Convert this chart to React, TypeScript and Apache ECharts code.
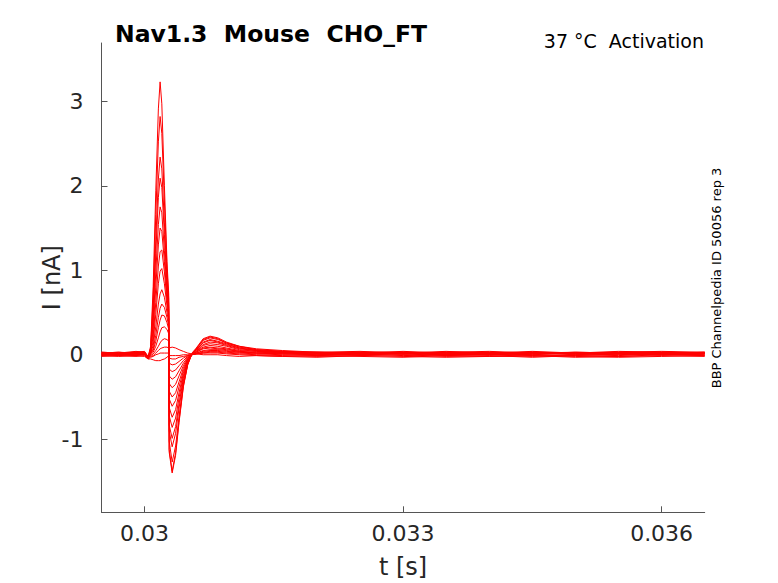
import React, { useEffect, useRef } from "react";
import * as echarts from "echarts";

// time points (s)
const timeS = [
  0.0295, 0.0297, 0.0299, 0.03, 0.03004, 0.03007, 0.0301, 0.03013, 0.03016, 0.03018,
  0.0302, 0.03023, 0.03026, 0.03028, 0.030285, 0.03032, 0.03036, 0.0304, 0.03045, 0.0305,
  0.03055, 0.0306, 0.03068, 0.03076, 0.03085, 0.03095, 0.0311, 0.0313, 0.0316, 0.032,
  0.0325, 0.033, 0.0335, 0.034, 0.0345, 0.035, 0.0355, 0.036, 0.0365,
];

// current traces (nA), one per voltage step
const traceA = [0.01, 0.02, 0.03, 0.03, -0.03, 0.1, 0.81, 1.94, 2.91, 3.23, 2.97, 2.0, 1.1, 0.72, -1.15, -1.4, -1.19, -0.8, -0.38, -0.12, 0.02, 0.08, 0.19, 0.22, 0.2, 0.15, 0.1, 0.07, 0.05, 0.03, 0.04, 0.02, 0.03, 0.01, 0.03, 0.02, 0.04, 0.03, 0.02];
const traceB = [0.0, 0.01, 0.02, 0.02, -0.04, 0.08, 0.68, 1.66, 2.52, 2.82, 2.62, 1.82, 1.02, 0.66, -1.12, -1.38, -1.16, -0.78, -0.37, -0.12, 0.01, 0.07, 0.18, 0.21, 0.19, 0.14, 0.1, 0.06, 0.04, 0.02, 0.03, 0.03, 0.01, 0.02, 0.04, 0.02, 0.03, 0.04, 0.03];
const traceC = [0.02, 0.01, 0.03, 0.04, -0.02, 0.07, 0.55, 1.36, 2.08, 2.34, 2.2, 1.56, 0.9, 0.6, -1.02, -1.27, -1.08, -0.73, -0.35, -0.11, 0.01, 0.07, 0.17, 0.2, 0.18, 0.14, 0.09, 0.06, 0.04, 0.03, 0.02, 0.04, 0.02, 0.03, 0.01, 0.03, 0.02, 0.03, 0.02];
const traceD = [0.01, 0.0, 0.02, 0.02, -0.05, 0.05, 0.47, 1.2, 1.86, 2.09, 1.98, 1.42, 0.84, 0.56, -0.9, -1.09, -0.93, -0.63, -0.31, -0.1, 0.01, 0.06, 0.15, 0.18, 0.16, 0.13, 0.08, 0.05, 0.03, 0.02, 0.01, 0.02, 0.04, 0.02, 0.02, 0.01, 0.03, 0.02, 0.03];
const traceE = [0.03, 0.02, 0.04, 0.03, -0.03, 0.04, 0.38, 0.98, 1.54, 1.75, 1.68, 1.23, 0.76, 0.52, -0.83, -0.99, -0.85, -0.58, -0.28, -0.09, 0.01, 0.06, 0.14, 0.17, 0.15, 0.12, 0.08, 0.05, 0.03, 0.03, 0.02, 0.01, 0.03, 0.04, 0.02, 0.02, 0.01, 0.03, 0.02];
const traceF = [0.0, 0.01, 0.01, 0.02, -0.04, 0.03, 0.3, 0.8, 1.3, 1.5, 1.46, 1.1, 0.7, 0.48, -0.72, -0.86, -0.75, -0.51, -0.25, -0.08, 0.01, 0.05, 0.12, 0.15, 0.14, 0.11, 0.07, 0.05, 0.03, 0.02, 0.03, 0.02, 0.0, 0.02, 0.03, 0.01, 0.02, 0.01, 0.02];
const traceG = [0.02, 0.03, 0.02, 0.03, -0.02, 0.03, 0.22, 0.62, 1.05, 1.22, 1.24, 0.98, 0.64, 0.45, -0.62, -0.74, -0.65, -0.45, -0.22, -0.07, 0.0, 0.04, 0.11, 0.13, 0.12, 0.1, 0.06, 0.04, 0.03, 0.02, 0.01, 0.03, 0.02, 0.0, 0.02, 0.03, 0.02, 0.02, 0.01];
const traceH = [0.01, 0.0, 0.02, 0.01, -0.04, 0.02, 0.16, 0.48, 0.84, 0.99, 1.02, 0.84, 0.58, 0.42, -0.52, -0.61, -0.54, -0.38, -0.19, -0.06, 0.0, 0.04, 0.09, 0.11, 0.1, 0.08, 0.05, 0.04, 0.02, 0.01, 0.02, 0.01, 0.03, 0.02, 0.0, 0.02, 0.01, 0.02, 0.02];
const traceI = [0.03, 0.02, 0.03, 0.02, -0.03, 0.02, 0.11, 0.33, 0.6, 0.72, 0.77, 0.68, 0.5, 0.38, -0.43, -0.5, -0.45, -0.32, -0.16, -0.05, 0.0, 0.03, 0.08, 0.09, 0.08, 0.07, 0.04, 0.03, 0.02, 0.03, 0.01, 0.02, 0.01, 0.03, 0.02, 0.0, 0.02, 0.01, 0.03];
const traceJ = [0.0, 0.01, 0.0, 0.01, -0.05, 0.01, 0.07, 0.23, 0.44, 0.55, 0.6, 0.56, 0.44, 0.34, -0.34, -0.39, -0.35, -0.25, -0.13, -0.04, 0.0, 0.03, 0.07, 0.08, 0.07, 0.06, 0.04, 0.02, 0.01, 0.0, 0.02, 0.01, 0.0, 0.01, 0.03, 0.01, 0.0, 0.02, 0.01];
const traceK = [0.02, 0.03, 0.01, 0.03, -0.02, 0.02, 0.05, 0.16, 0.32, 0.41, 0.47, 0.46, 0.38, 0.3, -0.25, -0.29, -0.26, -0.19, -0.1, -0.03, 0.0, 0.02, 0.05, 0.06, 0.06, 0.05, 0.03, 0.02, 0.02, 0.01, 0.0, 0.02, 0.01, 0.0, 0.01, 0.02, 0.01, 0.0, 0.01];
const traceL = [0.01, 0.0, 0.01, 0.0, -0.04, 0.0, 0.03, 0.1, 0.2, 0.27, 0.32, 0.33, 0.3, 0.25, -0.17, -0.2, -0.18, -0.13, -0.07, -0.02, 0.0, 0.02, 0.04, 0.05, 0.05, 0.04, 0.03, 0.02, 0.01, 0.0, 0.01, -0.01, 0.0, 0.01, 0.0, -0.01, 0.01, 0.0, 0.01];
const traceM = [0.0, -0.01, 0.0, 0.01, -0.03, -0.01, 0.01, 0.05, 0.1, 0.14, 0.17, 0.19, 0.18, 0.16, -0.1, -0.12, -0.11, -0.08, -0.04, -0.01, 0.0, 0.01, 0.03, 0.04, 0.04, 0.03, 0.02, 0.01, 0.0, -0.01, 0.0, 0.01, -0.01, 0.0, -0.02, 0.0, -0.01, 0.01, 0.0];
const traceN = [-0.01, 0.0, -0.01, 0.0, -0.04, -0.02, -0.01, 0.02, 0.05, 0.07, 0.08, 0.09, 0.09, 0.08, -0.04, -0.05, -0.05, -0.03, -0.02, -0.01, 0.0, 0.01, 0.02, 0.03, 0.03, 0.02, 0.01, 0.0, -0.01, -0.02, -0.01, 0.0, -0.02, -0.01, -0.03, -0.01, -0.02, 0.0, -0.01];
const traceO = [-0.02, -0.01, -0.02, -0.01, -0.05, -0.03, -0.02, 0.0, 0.01, 0.02, 0.02, 0.02, 0.02, 0.02, -0.01, -0.01, -0.01, -0.01, 0.0, 0.0, 0.0, 0.01, 0.02, 0.02, 0.02, 0.01, 0.0, -0.01, -0.02, -0.01, -0.02, -0.03, -0.01, -0.02, -0.01, -0.03, -0.02, -0.01, -0.02];
const traceP = [-0.01, -0.02, -0.01, -0.02, -0.05, -0.05, -0.06, -0.07, -0.07, -0.07, -0.06, -0.05, -0.03, -0.01, 0.08, 0.09, 0.08, 0.06, 0.04, 0.02, 0.01, 0.01, 0.0, 0.0, 0.0, -0.01, -0.02, -0.01, -0.02, -0.03, -0.01, -0.02, -0.03, -0.02, -0.01, -0.02, -0.03, -0.02, -0.01];

const traces = [traceA, traceB, traceC, traceD, traceE, traceF, traceG, traceH, traceI, traceJ, traceK, traceL, traceM, traceN, traceO, traceP];

const xTicks = [0.03, 0.033, 0.036];
const yTicks = [-1, 0, 1, 2, 3];

const titleText = "Nav1.3  Mouse  CHO_FT";
const conditionText = "37 °C  Activation";
const sourceText = "BBP Channelpedia ID 50056 rep 3";

const FONT = '"DejaVu Sans", "Liberation Sans", sans-serif';
const AXIS_COLOR = "#555555";
const TEXT_COLOR = "#262626";

export default function App() {
  const ref = useRef<HTMLDivElement>(null);
  useEffect(() => {
    if (!ref.current) return;
    const chart = echarts.init(ref.current, undefined, { renderer: "svg" });
    const series = traces.map((vals, k) => ({
      type: "line",
      name: "trace" + k,
      data: timeS.map((t, i) => [t, vals[i]]),
      showSymbol: false,
      symbol: "none",
      lineStyle: { color: "#ff0000", width: 1 },
      silent: true,
      z: 2,
    }));
    chart.setOption({
      animation: false,
      backgroundColor: "#ffffff",
      grid: {
        left: 101.5,
        top: 43,
        right: 73.3,
        bottom: 70.7,
        containLabel: false,
        outerBoundsMode: "none",
      },
      xAxis: {
        type: "value",
        min: 0.0295,
        max: 0.0365,
        name: "t [s]",
        nameLocation: "middle",
        nameGap: 43,
        nameTextStyle: { fontSize: 24, color: TEXT_COLOR, fontFamily: FONT },
        axisLine: { show: true, onZero: false, lineStyle: { color: AXIS_COLOR, width: 1 } },
        axisTick: { show: true, inside: true, length: 6, customValues: xTicks, lineStyle: { color: AXIS_COLOR } },
        axisLabel: {
          customValues: xTicks,
          margin: 10,
          fontSize: 22,
          color: TEXT_COLOR,
          fontFamily: FONT,
          formatter: (v: number) => String(Number(v.toFixed(4))),
        },
        splitLine: { show: false },
      },
      yAxis: {
        type: "value",
        min: -1.865,
        max: 3.69,
        name: "I [nA]",
        nameLocation: "middle",
        nameGap: 38,
        nameMoveOverlap: false,
        nameTextStyle: { fontSize: 24, color: TEXT_COLOR, fontFamily: FONT },
        axisLine: { show: true, onZero: false, lineStyle: { color: AXIS_COLOR, width: 1 } },
        axisTick: { show: true, inside: true, length: 6, customValues: yTicks, lineStyle: { color: AXIS_COLOR } },
        axisLabel: {
          customValues: yTicks,
          margin: 18,
          fontSize: 22,
          color: TEXT_COLOR,
          fontFamily: FONT,
          formatter: (v: number) => String(Math.round(v)),
        },
        splitLine: { show: false },
      },
      graphic: [
        {
          type: "text",
          x: 115,
          y: 34,
          style: {
            text: titleText,
            font: 'bold 23.5px ' + FONT,
            fill: "#000000",
            align: "left",
            verticalAlign: "middle",
          },
        },
        {
          type: "text",
          x: 704,
          y: 40.5,
          style: {
            text: conditionText,
            font: '19px ' + FONT,
            fill: "#000000",
            align: "right",
            verticalAlign: "middle",
          },
        },
        {
          type: "text",
          x: 716,
          y: 278,
          rotation: Math.PI / 2,
          style: {
            text: sourceText,
            font: '13px ' + FONT,
            fill: "#000000",
            align: "center",
            verticalAlign: "middle",
          },
        },
      ],
      series,
    });
    return () => chart.dispose();
  }, []);
  return (
    <div
      ref={ref}
      style={{ position: "fixed", left: 0, top: 0, width: 778, height: 583, background: "#fff" }}
    />
  );
}
